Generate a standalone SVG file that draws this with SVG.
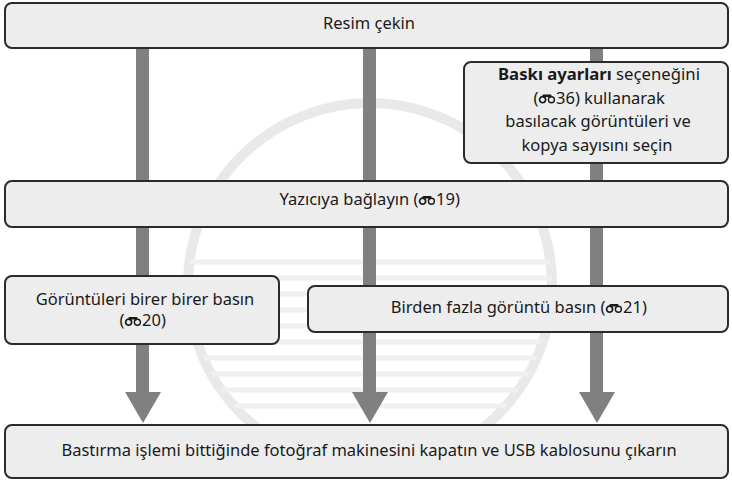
<svg xmlns="http://www.w3.org/2000/svg" width="732" height="481" viewBox="0 0 732 481">
<style>
.box{fill:#ededed;stroke:#2b2b2b;stroke-width:2}
.t{font-family:"Noto Sans","Liberation Sans",sans-serif;font-size:16.5px;fill:#1a1a1a;text-anchor:middle}
.l{text-anchor:end}
.r{text-anchor:start}
.b{font-weight:bold}
.shaft{fill:#808080}
.bar{fill:#1a1a1a}
</style>
<defs>
<clipPath id="cc"><circle cx="370" cy="285" r="182"/></clipPath>
<g id="icon">
<rect class="bar" x="3.5" y="-9" width="9" height="2.4" rx="1"/>
<circle cx="3.6" cy="-3.8" r="3" fill="none" stroke="#1a1a1a" stroke-width="1.7"/>
<circle cx="12.4" cy="-3.8" r="3" fill="none" stroke="#1a1a1a" stroke-width="1.4"/>
<rect class="bar" x="4.6" y="-8.6" width="1.6" height="3"/>
<rect class="bar" x="9.8" y="-8.6" width="1.6" height="3"/>
</g>
</defs>
<g id="watermark" opacity="0.5">
<circle cx="370" cy="285" r="182" fill="none" stroke="#d4d4d4" stroke-width="10"/>
<g clip-path="url(#cc)" stroke="#e2e2e2" stroke-width="5">
<line x1="180" y1="262" x2="560" y2="262"/><line x1="180" y1="278" x2="560" y2="278"/><line x1="180" y1="294" x2="560" y2="294"/><line x1="180" y1="310" x2="560" y2="310"/><line x1="180" y1="326" x2="560" y2="326"/><line x1="180" y1="342" x2="560" y2="342"/><line x1="180" y1="358" x2="560" y2="358"/><line x1="180" y1="374" x2="560" y2="374"/><line x1="180" y1="390" x2="560" y2="390"/><line x1="180" y1="406" x2="560" y2="406"/>
</g>
</g>
<g id="connectors">
<rect class="shaft" x="136" y="48" width="13" height="345"/>
<polygon class="shaft" points="125,392 161,392 143,423"/>
<rect class="shaft" x="363" y="48" width="13" height="345"/>
<polygon class="shaft" points="352,392 388,392 370,423"/>
<rect class="shaft" x="590" y="48" width="13" height="345"/>
<polygon class="shaft" points="579,392 615,392 597,423"/>
</g>
<g id="n1"><rect class="box" x="5" y="3" width="723" height="45" rx="7"/><text class="t" x="369" y="29">Resim çekin</text></g>
<g id="n2"><rect class="box" x="464" y="62" width="264" height="101" rx="7"/>
<text class="t" x="599" y="80" textLength="202" lengthAdjust="spacingAndGlyphs"><tspan class="b">Baskı ayarları</tspan> seçeneğini</text>
<text class="t l" x="538.5" y="103.5">(</text><use href="#icon" x="539" y="103.5"/><text class="t r" x="556" y="103.5">36) kullanarak</text>
<text class="t" x="598" y="127">basılacak görüntüleri ve</text>
<text class="t" x="597" y="150.5">kopya sayısını seçin</text></g>
<g id="n3"><rect class="box" x="5" y="181" width="723" height="46" rx="7"/>
<text class="t l" x="418.5" y="205">Yazıcıya bağlayın (</text><use href="#icon" x="419" y="205"/><text class="t r" x="436" y="205">19)</text></g>
<g id="n4"><rect class="box" x="5" y="276" width="274" height="68" rx="7"/>
<text class="t" x="145" y="305">Görüntüleri birer birer basın</text>
<text class="t l" x="124.5" y="326">(</text><use href="#icon" x="125" y="326"/><text class="t r" x="142" y="326">20)</text></g>
<g id="n5"><rect class="box" x="308" y="286" width="420" height="46" rx="7"/>
<text class="t l" x="605.5" y="313">Birden fazla görüntü basın (</text><use href="#icon" x="606" y="313"/><text class="t r" x="623" y="313">21)</text></g>
<g id="n6"><rect class="box" x="5" y="425" width="723" height="53" rx="7"/><text class="t" x="369" y="456">Bastırma işlemi bittiğinde fotoğraf makinesini kapatın ve USB kablosunu çıkarın</text></g>
</svg>
